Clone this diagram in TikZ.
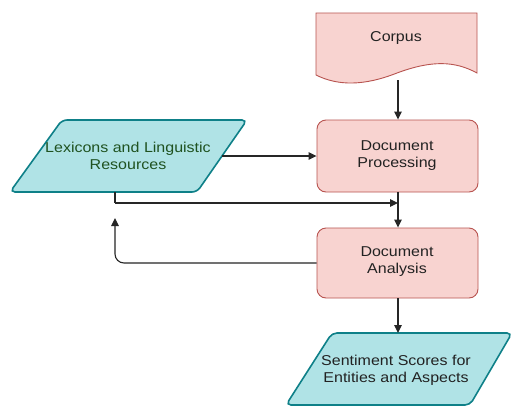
\documentclass[tikz,border=0pt]{standalone}
\usepackage{fontspec}
\setmainfont{Liberation Sans}[FakeStretch=1.12]
\usetikzlibrary{arrows.meta}
\definecolor{pinkfill}{HTML}{F8D3D0}
\definecolor{pinkline}{HTML}{B85450}
\definecolor{cyanfill}{HTML}{B0E3E6}
\definecolor{cyanline}{HTML}{0E8088}
\definecolor{greentext}{HTML}{1F5220}
\definecolor{darktext}{HTML}{222222}
\tikzset{
  pinkbox/.style={draw=pinkline, fill=pinkfill, line width=0.9pt, rounded corners=9pt},
  cyanbox/.style={draw=cyanline, fill=cyanfill, line width=1.6pt, rounded corners=5pt},
  lbl/.style={font=\fontsize{14.3}{17}\selectfont, align=center, text=darktext, inner sep=0pt},
  conn/.style={draw=black!85, line width=1.1pt, -{Triangle[length=8pt,width=7.5pt]}},
  plain/.style={draw=black!85, line width=1.1pt}
}
\begin{document}
\begin{tikzpicture}[x=1pt,y=-1pt]
\useasboundingbox (0,0) rectangle (514,410);
\fill[white] (0,0) rectangle (514,410);

% Corpus (document shape)
\path[pinkbox, rounded corners=0pt] (316,13) -- (477,13) -- (477,73)
  .. controls (455,61) and (432,60) .. (397,73)
  .. controls (364,86) and (338,86) .. (316,75) -- cycle;
\node[lbl] (corpus) at (396,38) {Corpus};
\coordinate (corpusbot) at (398,80);

% Document Processing
\node[pinkbox, minimum width=161pt, minimum height=72pt, inner sep=0pt] (proc) at (397.5,156) {};
\node[lbl] (proct) at (397,156) {Document\\Processing};

% Document Analysis
\node[pinkbox, minimum width=161pt, minimum height=70pt, inner sep=0pt] (anal) at (397.5,263) {};
\node[lbl] (analt) at (397,262) {Document\\Analysis};

% Lexicons parallelogram
\path[cyanbox] (62,120) -- (247,120) -- (197,192) -- (10,192) -- cycle;
\node[lbl, text=greentext] (lex) at (128,156) {Lexicons and Linguistic\\Resources};
\coordinate (lexright) at (222,156);
\coordinate (lexbot) at (115,192);

% Sentiment parallelogram
\path[cyanbox] (332,333) -- (512,333) -- (470,405) -- (286,405) -- cycle;
\node[lbl] (sent) at (396,370) {Sentiment Scores for\\Entities and Aspects};
\coordinate (senttop) at (398,333);

% connectors
\draw[conn] (corpusbot) -- (proc.north -| corpusbot);
\draw[conn] (lexright) -- (proc.west |- lexright);
\draw[conn] (proc.south -| corpusbot) -- (anal.north -| corpusbot);
\coordinate (junc) at (115,203);
\coordinate (jend) at (398,203);
\draw[plain] (lexbot) -- (junc);
\draw[conn] (junc) -- (jend);
\coordinate (fbend) at (115,218);
\draw[conn, rounded corners=9pt] (anal.west) -| (fbend);
\draw[conn] (anal.south -| corpusbot) -- (senttop);
\end{tikzpicture}
\end{document}
